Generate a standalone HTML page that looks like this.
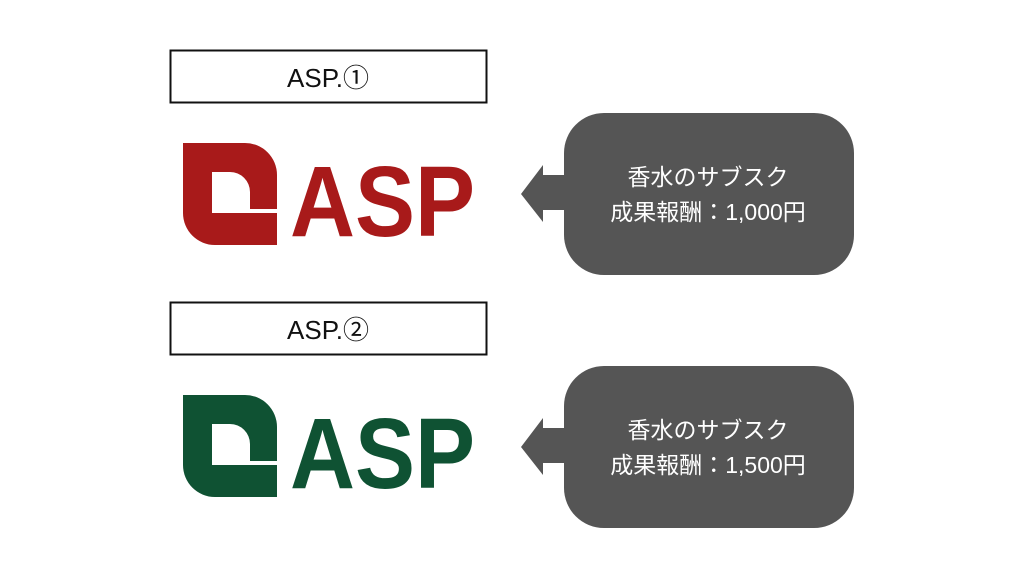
<!DOCTYPE html>
<html><head><meta charset="utf-8"><style>
html,body{margin:0;padding:0;background:#fff;}
svg{display:block}
</style></head><body>
<svg width="1024" height="576" viewBox="0 0 1024 576" xmlns="http://www.w3.org/2000/svg">
<rect width="1024" height="576" fill="#fff"/>
<rect x="170.5" y="50.5" width="316" height="52" fill="#fff" stroke="#111" stroke-width="2"/>
<text x="328" y="87" font-family="Liberation Sans, Noto Sans CJK JP, sans-serif" font-size="26" text-anchor="middle" fill="#111">ASP.①</text>
<rect x="170.5" y="302.5" width="316" height="52" fill="#fff" stroke="#111" stroke-width="2"/>
<text x="328" y="339" font-family="Liberation Sans, Noto Sans CJK JP, sans-serif" font-size="26" text-anchor="middle" fill="#111">ASP.②</text>

<g fill="#a81a1a">
<path d="M183,143 H245 A32,32 0 0 1 277,175 V209 H250 V192 A20,20 0 0 0 230,172 H212 V213 H277 V245 H215 A32,32 0 0 1 183,213 Z"/>
<text x="290" y="236" font-family="Liberation Sans, sans-serif" font-weight="bold" font-size="100" textLength="185" lengthAdjust="spacingAndGlyphs">ASP</text>
</g>
<g fill="#0f5233">
<path d="M183,395 H245 A32,32 0 0 1 277,427 V461 H250 V444 A20,20 0 0 0 230,424 H212 V465 H277 V497 H215 A32,32 0 0 1 183,465 Z"/>
<text x="290" y="488" font-family="Liberation Sans, sans-serif" font-weight="bold" font-size="100" textLength="185" lengthAdjust="spacingAndGlyphs">ASP</text>
</g>

<g fill="#555">
<rect x="564" y="113" width="290" height="162" rx="40"/>
<polygon points="521,194 543,165 543,175 566,175 566,210 543,210 543,222"/>
<rect x="564" y="366" width="290" height="162" rx="40"/>
<polygon points="521,447 543,418 543,428 566,428 566,463 543,463 543,475"/>
</g>
<g font-family="Liberation Sans, Noto Sans CJK JP, sans-serif" font-size="23" fill="#fff" text-anchor="middle">
<text x="708" y="185">香水のサブスク</text>
<text x="708" y="220">成果報酬：1,000円</text>
<text x="708" y="438">香水のサブスク</text>
<text x="708" y="473">成果報酬：1,500円</text>
</g>
</svg>
</body></html>
